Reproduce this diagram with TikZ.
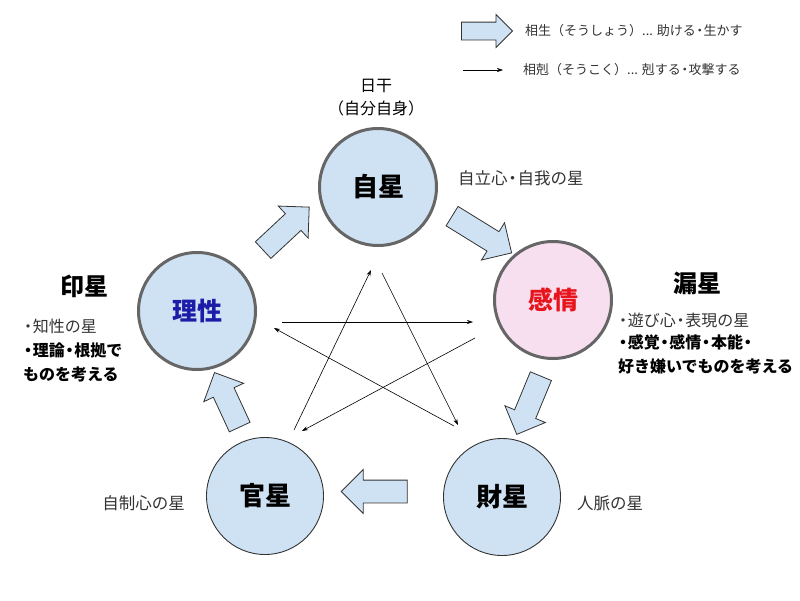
\documentclass[tikz,border=0pt]{standalone}
\usepackage{fontspec}
\setmainfont{Noto Sans CJK JP}
\usetikzlibrary{arrows.meta, shapes.arrows, positioning}

\definecolor{starblue}{HTML}{CFE2F3}
\definecolor{starpink}{HTML}{F8DFF0}
\definecolor{rimgray}{HTML}{666666}
\definecolor{riblue}{HTML}{1C1CA8}
\definecolor{kanred}{HTML}{E8141C}
\definecolor{txtgray}{HTML}{333333}
\newcommand{\nakaten}{\makebox[0.6em][c]{・}}

\begin{document}
\begin{tikzpicture}
[x=1pt,y=-1pt,
   star/.style={draw=rimgray,line width=3pt,fill=starblue,circle,minimum size=117pt,inner sep=0pt,font=\bfseries\fontsize{26}{26}\selectfont},
   lowstar/.style={star,draw=txtgray,line width=0.9pt},
   seiarrow/.style={single arrow,draw=txtgray,fill=starblue,line width=0.8pt,inner xsep=0pt,inner ysep=11pt,minimum width=0pt,single arrow head extend=10.5pt,single arrow tip angle=90,minimum height=#1},
   seiarrow/.default=64pt,
   koku/.style={-{Stealth[length=6pt,width=4pt]},line width=0.6pt},
   note/.style={text=txtgray,font=\fontsize{16.5}{16.5}\selectfont},
   listline/.style={anchor=west,inner sep=0pt,text=txtgray,font=\fontsize{16}{16}\selectfont},
   boldline/.style={listline,text=black,font=\bfseries\fontsize{16}{16}\selectfont},
   bigname/.style={text=black,font=\bfseries\fontsize{24}{24}\selectfont},
   legend/.style={anchor=west,inner sep=0pt,text=txtgray,font=\fontsize{13}{13}\selectfont}
  ]
\fill[white] (0,0) rectangle (800,600);
\useasboundingbox (0,0) rectangle (800,600);

% legend
\node[seiarrow=51pt,inner ysep=8.5pt,single arrow head extend=7.5pt] (legsei) at (482.5,31) {};
\node[legend] (legseitext) at (525,31) {相生（そうしょう）... 助ける\nakaten 生かす};
\coordinate (legkokustart) at (463,70);
\coordinate (legkokuend) at (503,70);
\draw[koku] (legkokustart) -- (legkokuend);
\node[legend] (legkokutext) at (523,70) {相剋（そうこく）... 剋する\nakaten 攻撃する};

% the five stars
\node[star] (jisei) at (378,187) {自星};
\node[star,text=riblue,font=\bfseries\fontsize{25}{25}\selectfont] (risei) at (197,311) {理性};
\node[star,fill=starpink,text=kanred,font=\bfseries\fontsize{25}{25}\selectfont] (kanjo) at (553,300) {感情};
\node[lowstar] (kansei) at (265,496) {官星};
\node[lowstar] (zaisei) at (502,497) {財星};

% sosho
\node[seiarrow=63pt,rotate=43] (seiA) at (282,232.5) {};
\node[seiarrow=70pt,rotate=-31.7] (seiB) at (477,231.5) {};
\node[seiarrow=63pt,rotate=-112.5] (seiC) at (531,400) {};
\node[seiarrow=66pt,rotate=180] (seiD) at (380,491.5) {};
\node[seiarrow=60pt,rotate=114.8] (seiE) at (229.5,405) {};

% sokoku
\draw[koku] ([xshift=85pt,yshift=-11pt]risei.center) -- ([xshift=-80pt,yshift=-22pt]kanjo.center);
\draw[koku] ([xshift=-78pt,yshift=-38pt]kanjo.center) -- ([xshift=37pt,yshift=65pt]kansei.center);
\draw[koku] ([xshift=29pt,yshift=66pt]kansei.center) -- ([xshift=-7pt,yshift=-83pt]jisei.center);
\draw[koku] ([xshift=4pt,yshift=-86pt]jisei.center) -- ([xshift=-44pt,yshift=72pt]zaisei.center);
\draw[koku] ([xshift=-48pt,yshift=71pt]zaisei.center) -- ([xshift=77pt,yshift=-17pt]risei.center);

% labels
\node[note,text=black,align=center,font=\fontsize{16}{23}\selectfont] (nikkan) at (376,98) {日干\\（自分自身）};
\node[note,anchor=west,inner sep=0pt] (jiritsu) at (458,178) {自立心\nakaten 自我の星};
\node[note,anchor=east,inner sep=0pt] (jisei2) at (185,503) {自制心の星};
\node[note,anchor=west,inner sep=0pt] (jinmyaku) at (577,503) {人脈の星};

\node[bigname] (insei) at (84,286) {印星};
\node[listline] (inA) at (23,326) {\nakaten 知性の星};
\node[boldline] (inB) at (23,350) {\nakaten 理論\nakaten 根拠で};
\node[boldline] (inC) at (23,374) {ものを考える};

\node[bigname] (rousei) at (697,283) {漏星};
\node[listline] (roA) at (618,320) {\nakaten 遊び心\nakaten 表現の星};
\node[boldline] (roB) at (618,342) {\nakaten 感覚\nakaten 感情\nakaten 本能\nakaten};
\node[boldline] (roC) at (618,366) {好き嫌いでものを考える};
\end{tikzpicture}
\end{document}
